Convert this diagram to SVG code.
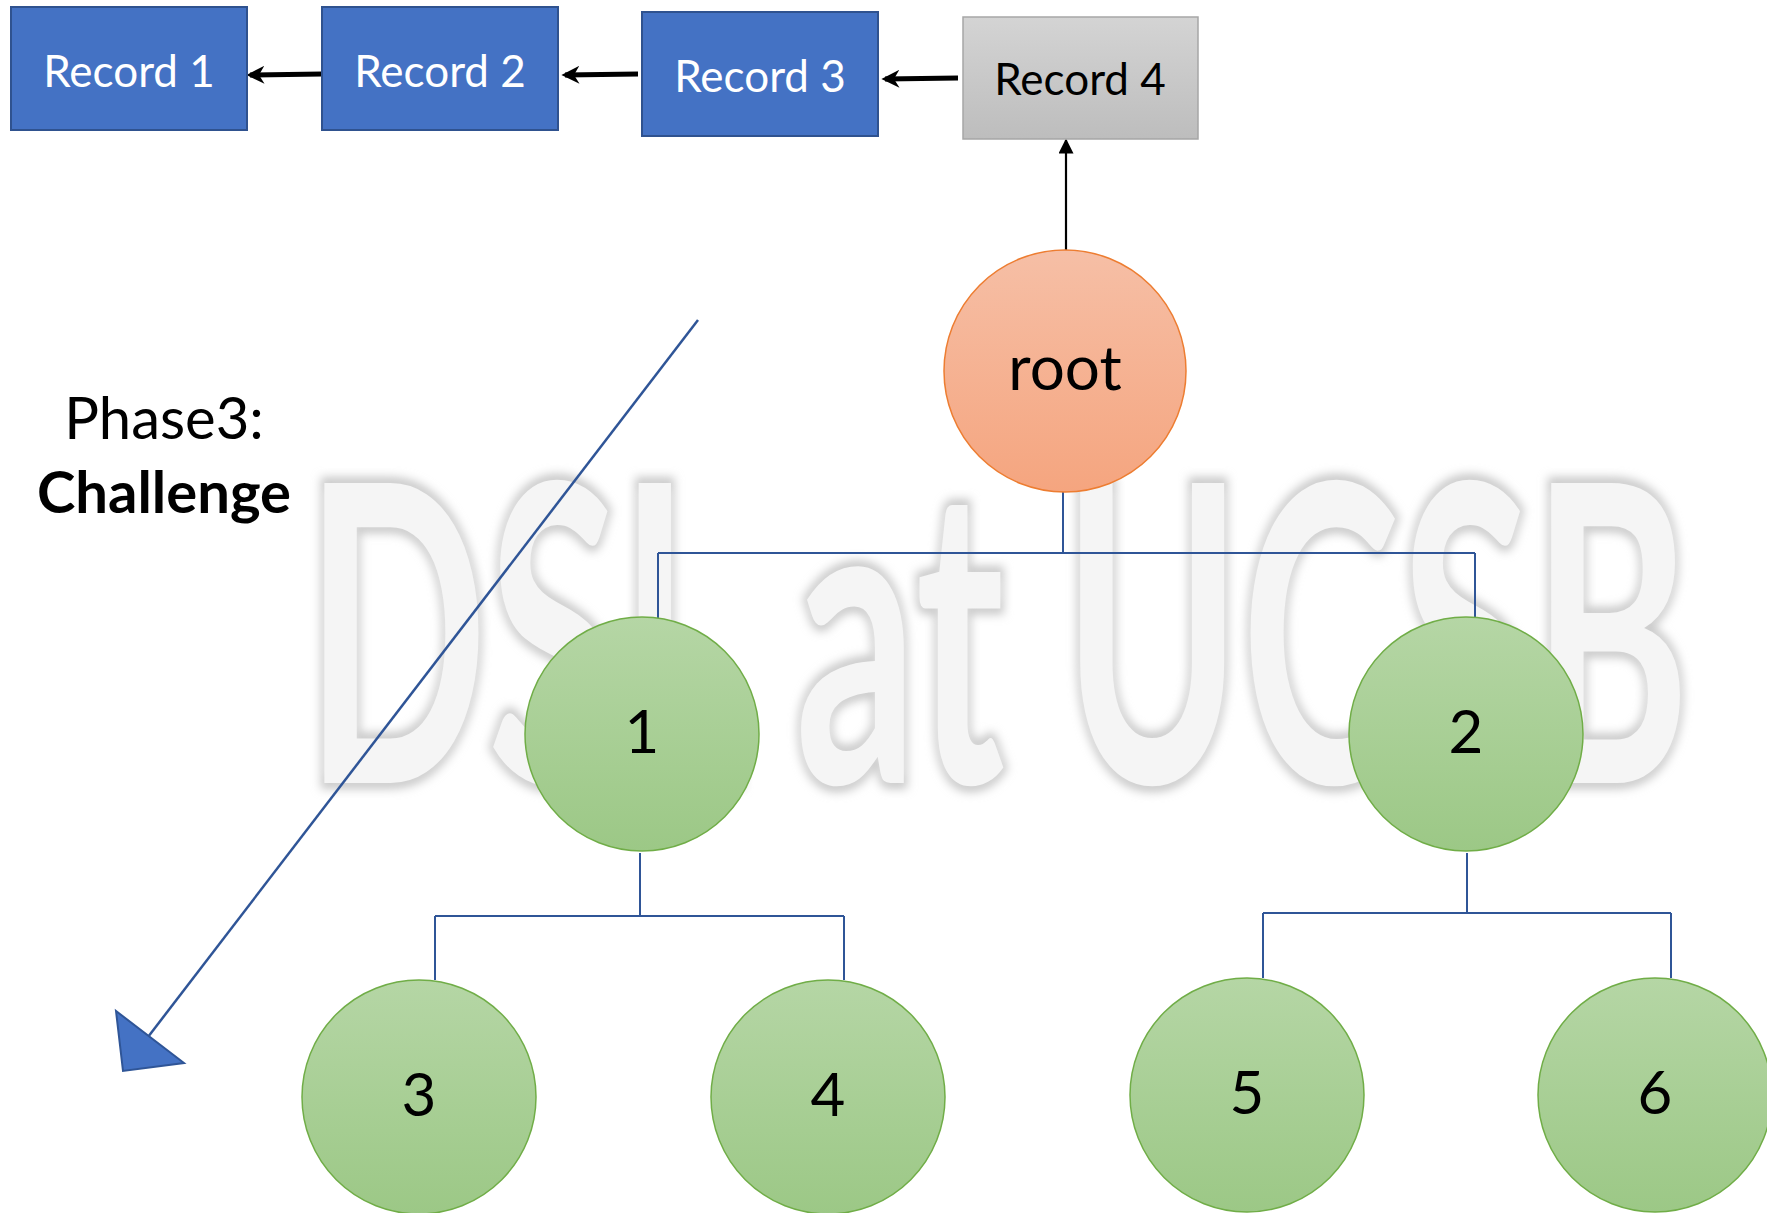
<svg xmlns="http://www.w3.org/2000/svg" width="1767" height="1213" viewBox="0 0 1767 1213">
<style>
.rec{fill:#4472c4;stroke:#2f528f;stroke-width:2}
.rect{font-family:Lato,"Liberation Sans",sans-serif;font-size:44px;fill:#fff;text-anchor:middle}
.circ{fill:url(#gGreen);stroke:#70ad47;stroke-width:1.5}
.num{font-family:Lato,"Liberation Sans",sans-serif;font-size:60px;fill:#000;text-anchor:middle}
.tree{stroke:#2f5597;stroke-width:2;fill:none}
.blk{stroke:#000;fill:none}
.wm{font-family:Lato,"Liberation Sans",sans-serif;font-size:415px;font-weight:bold}
</style>
<defs>
<linearGradient id="gGreen" x1="0" y1="0" x2="0" y2="1"><stop offset="0" stop-color="#b5d6a5"/><stop offset="1" stop-color="#9cc886"/></linearGradient>
<linearGradient id="gOrange" x1="0" y1="0" x2="0" y2="1"><stop offset="0" stop-color="#f6bfa6"/><stop offset="1" stop-color="#f5a57f"/></linearGradient>
<linearGradient id="gGray" x1="0" y1="0" x2="0" y2="1"><stop offset="0" stop-color="#d4d4d4"/><stop offset="1" stop-color="#bdbdbd"/></linearGradient>
<marker id="ahThick" viewBox="0 0 10 10" refX="8" refY="5" markerWidth="18" markerHeight="18" markerUnits="userSpaceOnUse" orient="auto"><path d="M10,5 L0,0 L3,5 L0,10 Z" fill="#000"/></marker>
<marker id="ahThin" viewBox="0 0 10 10" refX="9" refY="5" markerWidth="15" markerHeight="15" markerUnits="userSpaceOnUse" orient="auto"><path d="M10,5 L0,0 L0,10 Z" fill="#000"/></marker>
<filter id="wmShadow" x="-5%" y="-5%" width="110%" height="110%"><feGaussianBlur stdDeviation="5"/></filter>
</defs>
<rect width="1767" height="1213" fill="#fff"/>
<g id="watermark">
<text class="wm" x="305" y="783" textLength="1385" lengthAdjust="spacingAndGlyphs" fill="none" stroke="#c8c8c8" stroke-width="12" filter="url(#wmShadow)">DSL at UCSB</text>
<text class="wm" x="305" y="783" textLength="1385" lengthAdjust="spacingAndGlyphs" fill="#f5f5f5">DSL at UCSB</text>
</g>
<g id="connectors">
<line class="blk" x1="322" y1="74" x2="250" y2="75" stroke-width="5" marker-end="url(#ahThick)"/>
<line class="blk" x1="638" y1="74" x2="565" y2="75" stroke-width="5" marker-end="url(#ahThick)"/>
<line class="blk" x1="958" y1="78" x2="885" y2="79" stroke-width="5" marker-end="url(#ahThick)"/>
<line class="blk" x1="1066" y1="250" x2="1066" y2="140" stroke-width="2.2" marker-end="url(#ahThin)"/>
<path class="tree" d="M1063,492 V553 M658,553 H1475 M658,553 V618 M1475,553 V618"/>
<path class="tree" d="M640,853 V916 M435,916 H844 M435,916 V980 M844,916 V980"/>
<path class="tree" d="M1467,853 V913 M1263,913 H1671 M1263,913 V978 M1671,913 V978"/>
<line x1="698" y1="320" x2="148" y2="1037" stroke="#2f5597" stroke-width="2.5"/>
<polygon points="116,1011 123,1071 184,1063" fill="#4472c4" stroke="#2f5597" stroke-width="2"/>
</g>
<g id="record1"><rect class="rec" x="11" y="7" width="236" height="123"/><text class="rect" x="129" y="87">Record 1</text></g>
<g id="record2"><rect class="rec" x="322" y="7" width="236" height="123"/><text class="rect" x="440" y="87">Record 2</text></g>
<g id="record3"><rect class="rec" x="642" y="12" width="236" height="124"/><text class="rect" x="760" y="92">Record 3</text></g>
<g id="record4"><rect x="963" y="17" width="235" height="122" fill="url(#gGray)" stroke="#a6a6a6" stroke-width="1.5"/><text class="rect" x="1080" y="95" style="fill:#000">Record 4</text></g>
<g id="root"><circle cx="1065" cy="371" r="121" fill="url(#gOrange)" stroke="#ed7d31" stroke-width="1.5"/><text x="1065" y="390" font-family="Lato,'Liberation Sans',sans-serif" font-size="62" text-anchor="middle">root</text></g>
<g id="node1"><circle class="circ" cx="642" cy="734" r="117"/><text class="num" x="642" y="753">1</text></g>
<g id="node2"><circle class="circ" cx="1466" cy="734" r="117"/><text class="num" x="1466" y="753">2</text></g>
<g id="node3"><circle class="circ" cx="419" cy="1097" r="117"/><text class="num" x="419" y="1116">3</text></g>
<g id="node4"><circle class="circ" cx="828" cy="1097" r="117"/><text class="num" x="828" y="1116">4</text></g>
<g id="node5"><circle class="circ" cx="1247" cy="1095" r="117"/><text class="num" x="1247" y="1114">5</text></g>
<g id="node6"><circle class="circ" cx="1655" cy="1095" r="117"/><text class="num" x="1655" y="1114">6</text></g>
<g id="phase">
<text x="164" y="439" font-family="Lato,'Liberation Sans',sans-serif" font-size="58" text-anchor="middle">Phase3:</text>
<text x="164" y="513" font-family="Lato,'Liberation Sans',sans-serif" font-size="58" font-weight="bold" text-anchor="middle">Challenge</text>
</g>
</svg>
